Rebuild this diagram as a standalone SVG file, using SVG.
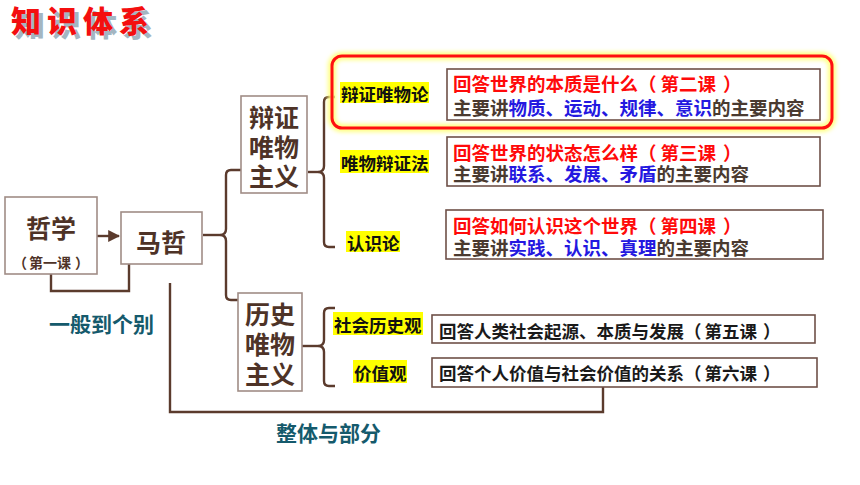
<svg xmlns="http://www.w3.org/2000/svg" width="860" height="485" viewBox="0 0 860 485">
<style>
text{font-family:"Noto Sans CJK SC","Noto Sans",sans-serif;font-weight:700;dominant-baseline:central}
.nb{fill:#fff;stroke:#a08d86;stroke-width:1.6}
.rb{fill:#fff;stroke:#6e5048;stroke-width:1.6}
.con{fill:none;stroke:#5b3b2d;stroke-width:2.4}
.big{fill:#4e3327;font-size:25px;text-anchor:middle}
.hl{fill:#ffff00}
.lab{fill:#111;font-size:17.5px}
.red{fill:#ff0a0a;font-size:18.5px}
.br{fill:#4a3a30;font-size:18.5px}
.bl{fill:#2418e0}
.blk{fill:#1a1a1a;font-size:17.5px}
.teal{fill:#155a6c;font-size:21px}
.ttl{font-size:30px;font-weight:900;letter-spacing:6px}
</style>
<defs>
<marker id="arr" viewBox="0 0 10 10" refX="9" refY="5" markerWidth="5" markerHeight="5" orient="auto">
<path d="M0,0 L10,5 L0,10 z" fill="#5b3b2d"/>
</marker>
<filter id="glow" x="-5%" y="-20%" width="110%" height="140%"><feGaussianBlur stdDeviation="2"/></filter>
</defs>
<rect width="860" height="485" fill="#fff"/>
<g id="title">
<text class="ttl" x="15" y="23" fill="#a3b6c2">知识体系</text>
<text class="ttl" x="11" y="19" fill="#f40f0f">知识体系</text>
</g>
<g id="connectors">
<line class="con" x1="97" y1="236" x2="119" y2="236" marker-end="url(#arr)"/>
<path class="con" d="M51,274 V291 H129 V265 Q129,261 133,261 H160"/>
<path class="con" d="M203,235 H220"/>
<path class="con" d="M241,170 H231 Q226,170 226,175 V229 Q226,235 220,235 Q226,235 226,241 V295 Q226,300 231,300 H238"/>
<path class="con" d="M308,172 H318"/>
<path class="con" d="M335,97 H329 Q324,97 324,102 V166 Q324,172 318,172 Q324,172 324,178 V242 Q324,247 329,247 H335"/>
<path class="con" d="M302,346 H318"/>
<path class="con" d="M335,308 H329 Q324,308 324,313 V340 Q324,346 318,346 Q324,346 324,352 V381 Q324,386 329,386 H335"/>
<path class="con" d="M170,283 V412 H603 V387"/>
</g>
<g id="n-zhexue">
<rect class="nb" x="5" y="197" width="92" height="77"/>
<text class="big" x="51" y="227" font-size="27">哲学</text>
<text x="51" y="262" font-size="14" fill="#4e3327" text-anchor="middle">（<tspan dx="2">第一课</tspan><tspan dx="4">）</tspan></text>
</g>
<g id="n-mazhe">
<rect class="nb" x="121" y="212" width="81" height="52"/>
<text class="big" x="161" y="241" font-size="28">马哲</text>
</g>
<g id="n-bianzheng">
<rect class="nb" x="241" y="96" width="66" height="97"/>
<text class="big" x="274" y="116">辩证</text>
<text class="big" x="274" y="146">唯物</text>
<text class="big" x="274" y="175">主义</text>
</g>
<g id="n-lishi">
<rect class="nb" x="238" y="293" width="64" height="98"/>
<text class="big" x="270" y="313">历史</text>
<text class="big" x="270" y="343">唯物</text>
<text class="big" x="270" y="373">主义</text>
</g>
<g id="n-highlight">
<rect x="332" y="56" width="500" height="72" rx="10" fill="none" stroke="#ffff80" stroke-width="8" filter="url(#glow)"/>
<rect x="332" y="56" width="500" height="72" rx="10" fill="none" stroke="#ff1010" stroke-width="3"/>
</g>
<g id="n-l1">
<rect class="hl" x="340" y="82" width="89" height="21"/>
<text class="lab" x="341" y="93">辩证唯物论</text>
<rect class="rb" x="447" y="69" width="373" height="51"/>
<text class="red" x="453" y="83">回答世界的本质是什么（<tspan dx="4">第二课</tspan><tspan dx="7">）</tspan></text>
<text class="br" x="453" y="107">主要讲<tspan class="bl">物质、运动、规律、意识</tspan>的主要内容</text>
</g>
<g id="n-l2">
<rect class="hl" x="340" y="150" width="89" height="23"/>
<text class="lab" x="341" y="162">唯物辩证法</text>
<rect class="rb" x="447" y="137" width="373" height="49"/>
<text class="red" x="453" y="152">回答世界的状态怎么样（<tspan dx="4">第三课</tspan><tspan dx="7">）</tspan></text>
<text class="br" x="453" y="173">主要讲<tspan class="bl">联系、发展、矛盾</tspan>的主要内容</text>
</g>
<g id="n-l3">
<rect class="hl" x="346" y="231" width="54" height="21"/>
<text class="lab" x="347" y="242">认识论</text>
<rect class="rb" x="446" y="210" width="377" height="49"/>
<text class="red" x="453" y="225">回答如何认识这个世界（<tspan dx="4">第四课</tspan><tspan dx="7">）</tspan></text>
<text class="br" x="453" y="247">主要讲<tspan class="bl">实践、认识、真理</tspan>的主要内容</text>
</g>
<g id="n-l5">
<rect class="hl" x="333" y="312" width="90" height="23"/>
<text class="lab" x="334" y="324">社会历史观</text>
<rect class="rb" x="432" y="315" width="383" height="28"/>
<text class="blk" x="439" y="330">回答人类社会起源、本质与发展（<tspan dx="3">第五课</tspan><tspan dx="6">）</tspan></text>
</g>
<g id="n-l6">
<rect class="hl" x="353" y="360" width="54" height="23"/>
<text class="lab" x="354" y="372">价值观</text>
<rect class="rb" x="432" y="358" width="385" height="29"/>
<text class="blk" x="439" y="372">回答个人价值与社会价值的关系（<tspan dx="3">第六课</tspan><tspan dx="6">）</tspan></text>
</g>
<g id="notes">
<text class="teal" x="49" y="323">一般到个别</text>
<text class="teal" x="276" y="432">整体与部分</text>
</g>
</svg>
